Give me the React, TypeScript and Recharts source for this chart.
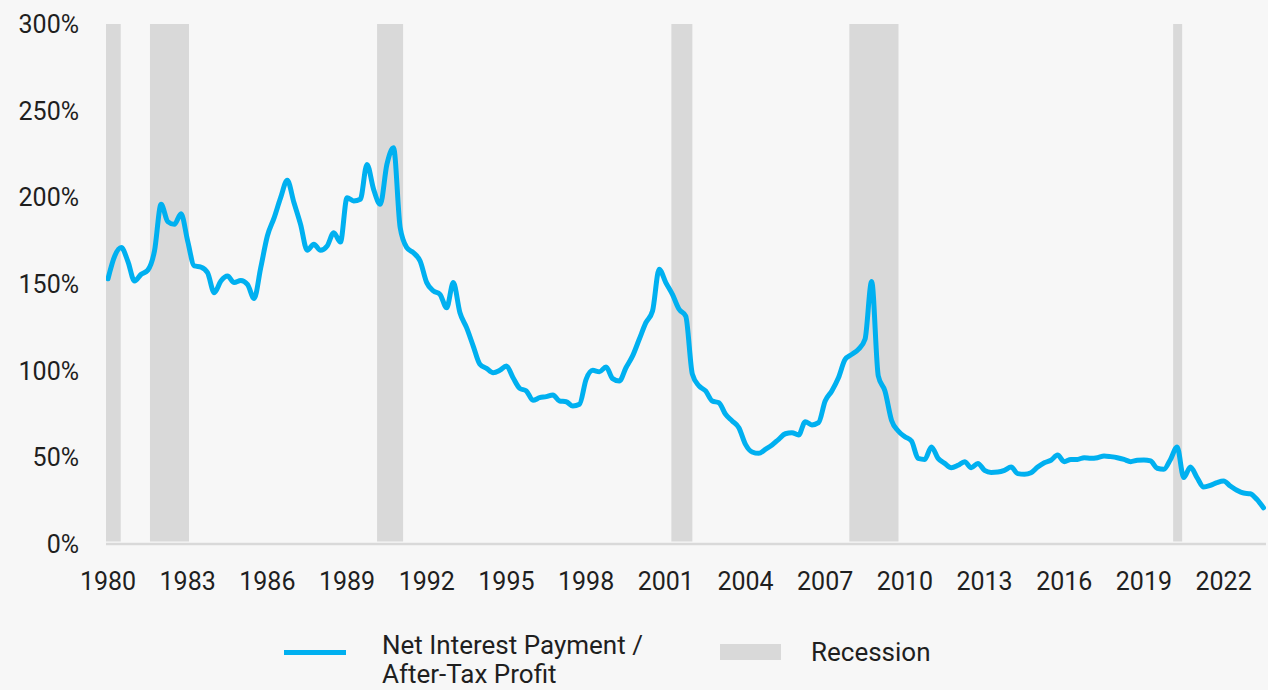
import { LineChart, Line, XAxis, YAxis, ReferenceArea } from 'recharts';

const START_YEAR = 1980;

// Net interest payment / after-tax profit, quarterly from 1980Q1 (in %)
const RATIO = [
  153, 166, 171, 163, 151.7, 155.6, 158, 169, 196, 186,
  184.4, 190.5, 174.8, 160.4, 159.8, 156.5, 145, 151.7, 154.6, 150.8,
  152, 149.8, 141.7, 159.4, 177.7, 188, 199.8, 209.8, 197, 184.4,
  169.4, 172.9, 169.4, 171.9, 179.6, 174.2, 199.8, 197.9, 198.9, 219,
  204.6, 196, 219, 228.6, 182.5, 171, 168, 163.3, 150.8, 146,
  144, 136.3, 150.8, 133.4, 124.8, 114.2, 103.7, 101.3, 98.8, 100.2,
  102.7, 95.9, 89.8, 88.3, 82.9, 84.4, 85, 86, 82.5, 82.1,
  79.6, 80.6, 95, 100.2, 99.4, 102.1, 95.4, 94, 101.7, 108.5,
  118.1, 127.7, 134.4, 158.5, 150.8, 144, 135.4, 131.5, 98, 91.2,
  88.3, 82.5, 81.5, 74.8, 71, 67.1, 57.5, 53.1, 52.3, 54.6,
  57.1, 60.4, 63.6, 64.2, 62.9, 70.6, 68.7, 70, 82.5, 88.3,
  95.9, 106.5, 109.4, 112.3, 118.1, 151.5, 96.9, 88.3, 71.3, 65.2,
  61.9, 59.4, 49.4, 48.8, 56, 49.4, 46.5, 44, 45.4, 47.5,
  44, 46.5, 42.5, 41.3, 41.5, 42.5, 44.4, 40.6, 40.2, 41.1,
  44.4, 46.9, 48.3, 51.3, 47.5, 48.8, 48.8, 49.8, 49.4, 49.8,
  50.8, 50.4, 49.8, 48.8, 47.5, 48.3, 48.5, 47.9, 43.7, 43.1,
  48.8, 56, 38.3, 44.4, 38.3, 32.9, 33.8, 35.4, 36.3, 33.5,
  31, 29.4, 29, 25.8, 20.9,
];

// recession periods, as decimal years
const RECESSIONS: [number, number][] = [
  [1979.925, 1980.48],
  [1981.58, 1983.05],
  [1990.13, 1991.11],
  [2001.21, 2002.0],
  [2007.91, 2009.76],
  [2020.1, 2020.44],
];

const YEAR_TICKS = [1980, 1983, 1986, 1989, 1992, 1995, 1998, 2001, 2004, 2007, 2010, 2013, 2016, 2019, 2022];
const PCT_TICKS = [0, 50, 100, 150, 200, 250, 300];

const LINE_COLOR = '#00b0f0';
const RECESSION_COLOR = '#d9d9d9';
const TEXT_COLOR = '#1f1f1f';
const FONT = 'Roboto, "Noto Sans", sans-serif';

const data = RATIO.map((v, i) => ({ x: START_YEAR + i / 4, v }));

const TICK_STYLE = { fill: TEXT_COLOR, fontSize: 25, fontFamily: FONT };

export default function App() {
  return (
    <div
      style={{
        position: 'absolute',
        left: 0,
        top: 0,
        width: 1268,
        height: 690,
        background: '#f7f7f7',
        fontFamily: FONT,
        color: TEXT_COLOR,
        overflow: 'hidden',
      }}
    >
      <LineChart width={1268} height={610} data={data} margin={{ top: 24, right: 2, left: 0, bottom: 26 }}>
        {RECESSIONS.map(([a, b], i) => (
          <ReferenceArea
            key={i}
            x1={a}
            x2={b}
            y1={1.5}
            y2={300}
            fill={RECESSION_COLOR}
            fillOpacity={1}
            stroke="none"
            ifOverflow="hidden"
          />
        ))}
        <XAxis
          dataKey="x"
          type="number"
          domain={[1979.925, 2023.596]}
          ticks={YEAR_TICKS}
          allowDataOverflow
          height={40}
          tick={TICK_STYLE}
          tickLine={false}
          tickSize={0}
          tickMargin={28}
          axisLine={{ stroke: RECESSION_COLOR, strokeWidth: 2.5 }}
          interval={0}
        />
        <YAxis
          type="number"
          domain={[0, 300]}
          ticks={PCT_TICKS}
          width={106}
          tick={TICK_STYLE}
          tickFormatter={(v) => `${v}%`}
          tickLine={false}
          axisLine={false}
          tickSize={0}
          tickMargin={27}
          interval={0}
        />
        <Line
          type="monotone"
          dataKey="v"
          stroke={LINE_COLOR}
          strokeWidth={5}
          dot={false}
          activeDot={false}
          strokeLinejoin="round"
          strokeLinecap="round"
          isAnimationActive={false}
        />
      </LineChart>

      {/* legend */}
      <div style={{ position: 'absolute', left: 284, top: 650, width: 62, height: 5, background: LINE_COLOR }} />
      <div style={{ position: 'absolute', left: 382, top: 631, fontSize: 26, lineHeight: '29px', whiteSpace: 'nowrap' }}>
        Net Interest Payment /
        <br />
        After-Tax Profit
      </div>
      <div style={{ position: 'absolute', left: 720, top: 644, width: 61, height: 16, background: RECESSION_COLOR }} />
      <div style={{ position: 'absolute', left: 811, top: 638, fontSize: 26, lineHeight: '29px', whiteSpace: 'nowrap' }}>
        Recession
      </div>
    </div>
  );
}
